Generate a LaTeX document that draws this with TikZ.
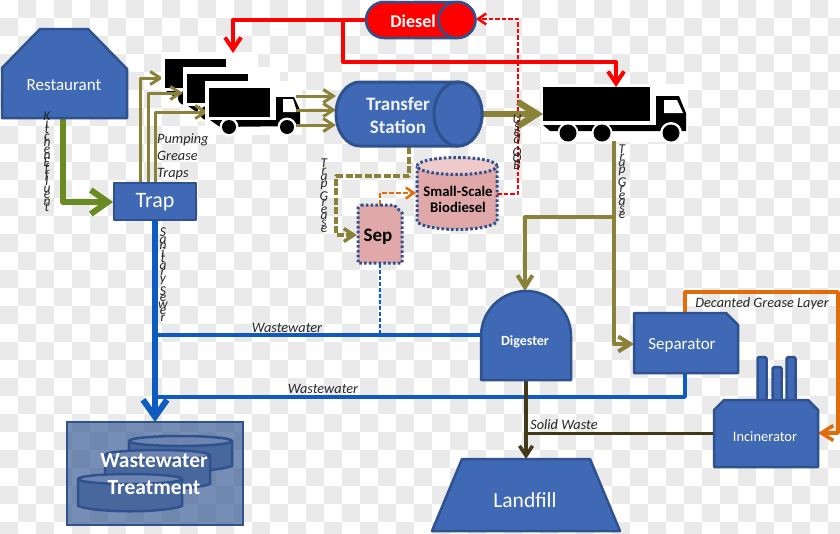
\documentclass[tikz,border=0pt]{standalone}
\usepackage{fontspec}
\setmainfont{Carlito}
\usetikzlibrary{arrows.meta}
\definecolor{boxfill}{HTML}{3F68B5}
\definecolor{boxline}{HTML}{2F528F}
\definecolor{olive}{HTML}{8A8239}
\definecolor{leaf}{HTML}{6A8A22}
\definecolor{pipe}{HTML}{0F5CC0}
\definecolor{flame}{HTML}{E36C0A}
\definecolor{rose}{HTML}{E0A8A8}
\definecolor{roselight}{HTML}{EECACA}
\definecolor{soil}{HTML}{40391A}
\definecolor{tile}{HTML}{EAEAEA}
\newcommand{\fsz}[1]{\fontsize{#1}{#1}\selectfont}
\newcommand{\stk}[1]{\vbox{\baselineskip=6.5pt\lineskiplimit=-100pt\relax\lineskip=0pt\relax\stkitems#1\stkend}}
\def\stkitems#1{\ifx#1\stkend\else\hbox to 12pt{\hss#1\hss}\expandafter\stkitems\fi}
\tikzset{
  unit/.style={draw=boxline,fill=boxfill,line width=2.5pt,line join=round},
  dotbox/.style={draw=boxline,fill=rose,line width=3pt,dash pattern=on 2.6pt off 2.2pt},
  lab/.style={text=white,inner sep=0pt,align=center},
  note/.style={text=black!85,inner sep=0pt,font=\itshape\fsz{14.3}},
  stack/.style={text=black!85,inner sep=0pt,anchor=north,font=\itshape\fontsize{13.5}{6.5}\selectfont},
  pipeline/.style={line width=#1,line join=round},
  barb/.style n args={2}{-{Straight Barb[length=#1,width=#2]}},
  truckpart/.style={fill=black,draw=none}
}
\newcommand{\smalltruck}[2]{%
  \begin{scope}[shift={(#1,#2)}]
    \fill[white] (205,81) rectangle (302,135);
    \fill[truckpart] (209,88) rectangle (270,117);
    \fill[truckpart] (210,120) -- (276,120) -- (276,97) -- (294,97) -- (300,110) -- (300,126) -- (220,127) -- cycle;
    \fill[white] (283,99) -- (293,99) -- (297,112) -- (283,112) -- cycle;
    \fill[white] (229,127) circle[radius=9.5pt] (287,127) circle[radius=9.5pt];
    \fill[truckpart] (229,127) circle[radius=7pt] (287,127) circle[radius=7pt];
  \end{scope}}
\begin{document}
\begin{tikzpicture}[x=1pt,y=-1pt]
\useasboundingbox (0,0) rectangle (840,533);
% page ground
\fill[white] (0,0) rectangle (840,533);
\foreach \i in {0,...,46}{\foreach \j in {0,...,29}{
  \pgfmathtruncatemacro{\p}{mod(\i+\j,2)}
  \ifnum\p=1 \fill[tile] ({\i*18},{\j*18}) rectangle ({\i*18+18},{\j*18+18});\fi}}
\path[clip] (0,0) rectangle (840,533);
% ports
\coordinate (restOut) at (63,118);
\coordinate (trapIn) at (113,202);
\coordinate (trapA) at (140,184);
\coordinate (trapB) at (148,184);
\coordinate (trapC) at (155,184);
\coordinate (truckA) at (163,78);
\coordinate (truckB) at (183,93);
\coordinate (truckC) at (208,112);
\coordinate (trapOut) at (155,220);
\coordinate (wwtIn) at (155,422);
\coordinate (tsInA) at (336,96);
\coordinate (tsInB) at (336,110);
\coordinate (tsInC) at (336,125);
\coordinate (outA) at (296,96);
\coordinate (outB) at (296,110);
\coordinate (outC) at (296,125);
\coordinate (tsOut) at (482,114);
\coordinate (bigIn) at (543,114);
\coordinate (bigTop) at (616,87);
\coordinate (bigBot) at (614,141);
\coordinate (smallTop) at (233,53);
\coordinate (dieselL) at (365,20);
\coordinate (dieselR) at (476,19);
\coordinate (tsBot) at (409,147);
\coordinate (sepIn) at (357,235);
\coordinate (sepTop) at (380,205);
\coordinate (sepBot) at (380,264);
\coordinate (bioIn) at (416,193);
\coordinate (bioOut) at (497,194);
\coordinate (digL) at (482,335);
\coordinate (digTop) at (525,291);
\coordinate (digBot) at (526,380);
\coordinate (landTop) at (526,459);
\coordinate (sepaIn) at (634,344);
\coordinate (sepaTop) at (685,313);
\coordinate (sepaBot) at (685,373);
\coordinate (incR) at (818,433);
\coordinate (incL) at (714,433);
% treatment
\draw[draw=boxline,fill=boxline,fill opacity=.65,line width=2.5pt] (67,422) rectangle (243,525);
\foreach \xa/\xb/\ya/\yb in {129/232/441/466,105/210/455/484,78/182/479/506}{
  \draw[unit,fill=boxline!88!white] (\xa,\ya) -- (\xa,\yb)
    .. controls (\xa+20,\yb+7) and (\xb-20,\yb+7) .. (\xb,\yb) -- (\xb,\ya);
  \pgfmathsetmacro{\rx}{(\xb-\xa)/2}
  \draw[unit,fill=boxline!70!white] ({(\xa+\xb)/2},\ya) ellipse[x radius=\rx pt,y radius=5pt];
}
\node[lab,font=\bfseries\fsz{21.5}] (wwt) at (154,474) {Wastewater\\[5pt]Treatment};
% wastewater
\draw[pipeline=3.5pt,draw=pipe] (155,335) -- (digL);
\draw[pipeline=3.5pt,draw=pipe] (155,397) -- (685,397) -- (sepaBot);
\draw[pipeline=2.5pt,draw=pipe,dash pattern=on 4pt off 2pt] (sepBot) -- (380,335);
\draw[pipeline=6pt,draw=pipe,barb={17pt}{24pt}] (trapOut) -- (wwtIn);
% kitchen
\draw[pipeline=6pt,draw=leaf,barb={17pt}{24pt}] (restOut) -- (63,202) -- (trapIn);
% pumping
\draw[pipeline=3pt,draw=olive,barb={10pt}{13pt}] (trapA) -- (140,78) -- (truckA);
\smalltruck{-44}{-29}
\draw[pipeline=3pt,draw=olive,barb={10pt}{13pt}] (trapB) -- (148,93) -- (truckB);
\smalltruck{-22}{-14}
\draw[pipeline=3pt,draw=olive,barb={10pt}{13pt}] (trapC) -- (155,112) -- (truckC);
\smalltruck{0}{0}
\draw[pipeline=3pt,draw=olive,barb={10pt}{13pt}] (outA) -- (tsInA);
\draw[pipeline=3pt,draw=olive,barb={10pt}{13pt}] (outB) -- (tsInB);
\draw[pipeline=3pt,draw=olive,barb={10pt}{13pt}] (outC) -- (tsInC);
% big truck
\fill[white] (541,84) rectangle (688,142);
\fill[truckpart] (543,87) rectangle (650,121);
\fill[truckpart] (543,125) -- (656,125) -- (656,96) -- (679,96) -- (686,113) -- (686,131) -- (550,131) -- cycle;
\fill[white] (664,100) -- (677,100) -- (683,113) -- (664,113) -- cycle;
\fill[white] (568,133) circle[radius=10.5pt] (602,133) circle[radius=10.5pt] (671,133) circle[radius=11pt];
\fill[truckpart] (568,133) circle[radius=8.5pt] (602,133) circle[radius=8.5pt] (671,133) circle[radius=8.5pt];
% red lines
\draw[pipeline=4pt,draw=red,barb={12pt}{16pt}] (dieselL) -- (233,20) -- (smallTop);
\draw[pipeline=4pt,draw=red,barb={12pt}{16pt}] (343,20) -- (343,62) -- (616,62) -- (bigTop);
% dashed recycle
\draw[pipeline=2.5pt,draw=red,dash pattern=on 4.5pt off 2pt,barb={8pt}{11pt}] (bioOut) -- (518,194) -- (518,19) -- (dieselR);
% transfer to big truck
\draw[pipeline=6.5pt,draw=olive,barb={19pt}{24pt}] (tsOut) -- (bigIn);
% grease to separator
\draw[pipeline=4pt,draw=olive,barb={12pt}{15pt}] (bigBot) -- (614,344) -- (sepaIn);
\draw[pipeline=4pt,draw=olive,barb={12pt}{15pt}] (614,217) -- (525,217) -- (digTop);
% transfer to sep
\draw[pipeline=3.5pt,draw=olive,dash pattern=on 7pt off 2.5pt,barb={10pt}{13pt}] (tsBot) -- (409,176) -- (336,176) -- (336,235) -- (sepIn);
\draw[pipeline=2.5pt,draw=flame,dash pattern=on 5pt off 2pt,barb={8pt}{11pt}] (sepTop) -- (380,193) -- (bioIn);
% waste
\draw[pipeline=3.5pt,draw=soil,barb={10pt}{13pt}] (digBot) -- (landTop);
\draw[pipeline=3pt,draw=soil] (incL) -- (526,433);
% decanted
\draw[pipeline=3.5pt,draw=flame,barb={12pt}{15pt}] (sepaTop) -- (685,292) -- (838,292) -- (838,433) -- (incR);
% restaurant
\draw[unit] (40,29) -- (88,29) -- (127,69) -- (127,118) -- (2,118) -- (2,68) -- cycle;
\node[lab,font=\fsz{17}] (restaurant) at (64,85) {Restaurant};
% trap
\draw[unit] (114,183) rectangle (196,220);
\node[lab,font=\fsz{22}] (trap) at (155,202) {Trap};
% diesel
\draw[unit,fill=red] (384,2) -- (457,2) arc[start angle=90,end angle=-90,radius=18pt] -- (384,38) arc[start angle=270,end angle=90,radius=18pt] -- cycle;
\draw[unit,fill=red] (457,20) ellipse[x radius=18.5pt,y radius=18pt];
\node[lab,font=\bfseries\fsz{18}] (diesel) at (413,21) {Diesel};
% transfer
\draw[unit,line width=3pt] (360,82) -- (458,82) arc[start angle=90,end angle=-90,x radius=24pt,y radius=32pt] -- (360,146) arc[start angle=270,end angle=90,x radius=24pt,y radius=32pt] -- cycle;
\draw[unit,line width=3pt] (458,114) ellipse[x radius=24pt,y radius=32pt];
\node[lab,font=\bfseries\fsz{19},text=white!92!boxfill] (transfer) at (398,115.5) {Transfer\\[4.5pt]Station};
% biodiesel
\fill[rose] (417,166) -- (417,222) .. controls (430,232) and (484,232) .. (497,222) -- (497,166) -- cycle;
\draw[dotbox,fill=none] (417,166) -- (417,222) .. controls (430,232) and (484,232) .. (497,222) -- (497,166);
\draw[dotbox,fill=roselight] (457,166) ellipse[x radius=40pt,y radius=8.5pt];
\node[lab,text=black,font=\bfseries\fsz{14.7}] (bio) at (458,199.5) {Small-Scale\\[1.5pt]Biodiesel};
% sep
\draw[dotbox] (361,205) -- (394,205) -- (402,213) -- (402,263) -- (358,263) -- (358,208) -- cycle;
\node[lab,text=black,font=\bfseries\fsz{19}] (sep) at (378,237) {Sep};
% digester
\draw[unit] (481,380) -- (481,336) arc[start angle=180,end angle=0,radius=45pt] -- (571,380) -- cycle;
\node[lab,font=\bfseries\fsz{14}] (digester) at (525,342) {Digester};
% separator
\draw[unit] (634,313) -- (726,313) -- (738,325) -- (738,373) -- (634,373) -- cycle;
\node[lab,font=\fsz{17}] (separator) at (682,345) {Separator};
% incinerator
\foreach \cx/\cy in {762/357,777/367,791/357}{
  \draw[unit,rounded corners=1.5pt] (\cx-4.5,400) -- (\cx-4.5,\cy) -- (\cx+4.5,\cy) -- (\cx+4.5,400);
}
\draw[unit] (714,410) -- (724,400) -- (808,400) -- (818,410) -- (818,467) -- (714,467) -- cycle;
\node[lab,font=\fsz{14.4}] (incinerator) at (765,437) {Incinerator};
% landfill
\draw[unit] (462,459) -- (590,459) -- (620,531) -- (432,531) -- cycle;
\node[lab,font=\fsz{21.5}] (landfill) at (525,500) {Landfill};
% labels
\node[note,anchor=west,align=left] (pump) at (157,157) {Pumping\\[2.5pt]Grease\\[2.5pt]Traps};
\node[note] (ww1) at (287,328) {Wastewater};
\node[note] (ww2) at (323,389) {Wastewater};
\node[note] (solid) at (564,425) {Solid Waste};
\node[note] (decant) at (762,304) {Decanted Grease Layer};
\node[stack] (kitchen) at (47,112) {\stk{{K}{i}{t}{c}{h}{e}{n}{E}{f}{f}{l}{u}{e}{n}{t}}};
\node[stack] (sewer) at (163,228) {\stk{{S}{a}{n}{i}{t}{a}{r}{y}{~}{S}{e}{w}{e}{r}}};
\node[stack] (tg1) at (324,159) {\stk{{T}{r}{a}{p}{~}{G}{r}{e}{a}{s}{e}}};
\node[stack] (tg2) at (622,145) {\stk{{T}{r}{a}{p}{~}{G}{r}{e}{a}{s}{e}}};
\node[stack] (used) at (517,115) {\stk{{U}{s}{e}{d}{~}{O}{O}{B}}};
\end{tikzpicture}
\end{document}
